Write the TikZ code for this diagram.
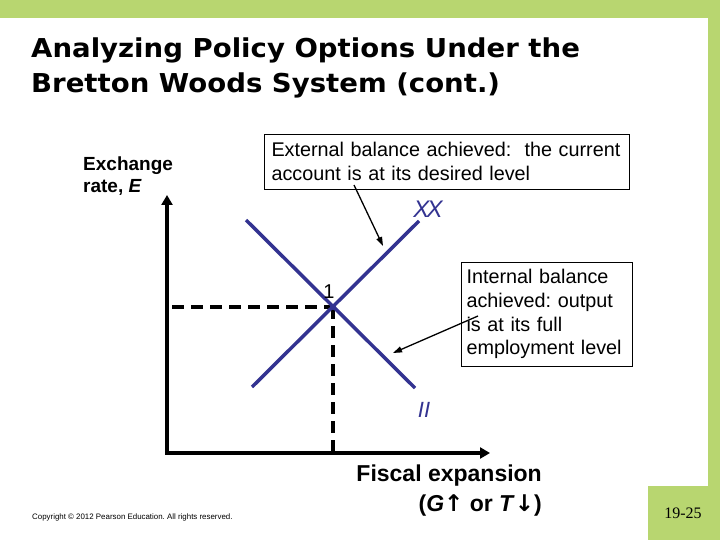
\documentclass[tikz,border=0pt]{standalone}
\usepackage{fontspec}
\setmainfont{Liberation Sans}
\newfontfamily\titlefont[FakeStretch=1.06]{DejaVu Sans}
\newfontfamily\arrowfont{DejaVu Sans}
\newfontfamily\seriffont{Liberation Serif}
\usetikzlibrary{arrows.meta}
\definecolor{slidegreen}{RGB}{184,214,112}
\definecolor{curveblue}{RGB}{51,51,145}
\frenchspacing
\begin{document}
\begin{tikzpicture}[x=1pt,y=-1pt,
  band/.style={fill=slidegreen, draw=none},
  txtbox/.style={draw=black, line width=0.8pt, fill=white, align=left, font=\fontsize{19.8}{23.8}\selectfont},
  curve/.style={draw=curveblue, line width=3.5pt},
  guide/.style={draw=black, line width=4pt, dash pattern=on 12pt off 7pt},
  axis/.style={draw=black, line width=3.5pt, {Triangle[length=10pt,width=11pt]}-{Triangle[length=10pt,width=11pt]}},
  pointer/.style={draw=black, line width=1.3pt, -{Triangle[length=9pt,width=6pt]}},
  curvelabel/.style={text=curveblue, inner sep=0pt},
]
\path[use as bounding box, fill=white] (0,0) rectangle (720,540);
% green frame
\fill[band] (0,0) rectangle (720,18);
\fill[band] (708,0) rectangle (720,540);
\fill[band] (648,486) rectangle (720,540);

% title
\node[anchor=north west, inner sep=0pt, align=left,
      font=\titlefont\bfseries\fontsize{26}{35}\selectfont] (title) at (31,38)
  {Analyzing Policy Options Under the\\Bretton Woods System (cont.)};

% axes
\coordinate (ytip) at (167,195);
\coordinate (orig) at (167,453);
\coordinate (xtip) at (490,453);
\draw[axis] (ytip) -- (orig) -- (xtip);

% dashed guides
\coordinate (hd) at (172,307);
\coordinate (pt1) at (333,307);
\coordinate (vd) at (333,453);
\draw[guide] (hd) -- (pt1);
\draw[guide] (pt1) -- (vd);

% schedules
\coordinate (xx1) at (252,387);
\coordinate (xx2) at (419,221);
\coordinate (ii1) at (246,220);
\coordinate (ii2) at (415,388);
\draw[curve] (xx1) -- (xx2);
\draw[curve] (ii1) -- (ii2);
\fill[curveblue] (pt1) circle (3pt);

\node[curvelabel, font=\itshape\fontsize{24}{24}\selectfont] (xxlab) at (428,209) {X\kern-3pt X};
\node[curvelabel, font=\itshape\fontsize{22}{22}\selectfont] (iilab) at (424,410) {II};
\node[inner sep=0pt, font=\fontsize{20}{20}\selectfont] (one) at (329,292) {1};

% axis labels
\node[anchor=north west, inner sep=0pt, align=left,
      font=\bfseries\fontsize{19}{22}\selectfont] (ylab) at (83,157)
  {Exchange\\rate, \textit{E}};
\node[anchor=north east, inner sep=0pt, align=right,
      font=\bfseries\fontsize{23}{30}\selectfont] (xlab) at (542,464.5)
  {Fiscal expansion\\(\textit{G}{\arrowfont ↑} or \textit{T}{\arrowfont\bfseries ↓})};

% callout boxes
\node[txtbox, minimum width=365pt, minimum height=55pt, text width=350pt, inner xsep=7.5pt] (ext) at (446.5,161.5)
  {External balance achieved:\ \ the current\\account is at its desired level};
\node[txtbox, minimum width=171pt, minimum height=104pt, text width=160pt, inner xsep=5.5pt] (int) at (546.5,314)
  {Internal balance\\achieved: output\\is at its full\\employment level};

% pointers
\coordinate (ea1) at (354,185);
\coordinate (ea2) at (383,246);
\draw[pointer] (ea1) -- (ea2);
\coordinate (ia1) at (478,316);
\coordinate (ia2) at (393,353);
\draw[pointer] (ia1) -- (ia2);

% footer
\node[anchor=west, inner sep=0pt, font=\fontsize{7.9}{9}\selectfont] (copy) at (32,517)
  {Copyright © 2012 Pearson Education. All rights reserved.};
\node[inner sep=0pt, font=\seriffont\fontsize{16}{16}\selectfont] (pg) at (683,513) {19-25};
\end{tikzpicture}
\end{document}
